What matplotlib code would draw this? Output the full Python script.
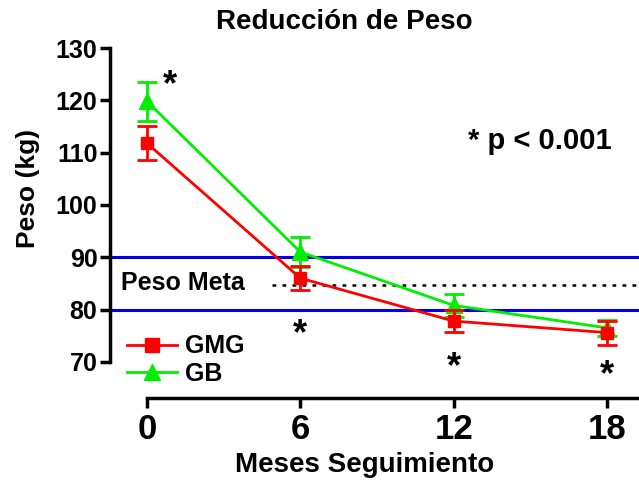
import matplotlib
matplotlib.use("Agg")
import matplotlib.pyplot as plt
from matplotlib.lines import Line2D

plt.rcParams["font.family"] = ["Liberation Sans", "DejaVu Sans"]
plt.rcParams["font.weight"] = "bold"

meses = [0, 6, 12, 18]
gmg = [111.8, 86.0, 77.8, 75.6]
gmg_err = [3.2, 2.3, 2.1, 2.3]
gb = [119.8, 91.0, 80.8, 76.5]
gb_err = [3.7, 2.8, 2.2, 1.5]
meta_sup, meta_inf, meta = 90, 80, 84.7
x_ticks = [0, 6, 12, 18]
y_ticks = [70, 80, 90, 100, 110, 120, 130]
asteriscos = [(0.9, 122.8), (6, 75.2), (12, 68.9), (18, 67.3)]

fig = plt.figure(figsize=(6.39, 4.8), dpi=100)
ax = fig.add_axes([110 / 639, 82 / 480, 529 / 639, 350 / 480])

ax.axhline(meta_sup, color="#0000ee", lw=2.2, zorder=1)
ax.axhline(meta_inf, color="#0000ee", lw=2.2, zorder=1)
ax.plot([4.9, 19.3], [meta, meta], color="black", lw=1.8, ls=(0, (1.5, 2.5)), zorder=1)
ax.text(-1.0, meta + 0.3, "Peso Meta", fontsize=18, va="center", ha="left")

ax.errorbar(meses, gb, yerr=gb_err, color="#00ee00", marker="^", markersize=12,
            lw=2, capsize=7, capthick=2, elinewidth=2, zorder=3)
ax.errorbar(meses, gmg, yerr=gmg_err, color="#ff0000", marker="s", markersize=9,
            lw=2, capsize=7, capthick=2, elinewidth=2, zorder=4)

for x, y in asteriscos:
    ax.text(x, y, "*", fontsize=26, ha="center", va="center")
ax.text(12.55, 112.2, "* p < 0.001", fontsize=21, ha="left", va="center")

ax.set_xlim(-1.45, 19.25)
ax.set_ylim(63.1, 130)
ax.spines["top"].set_visible(False)
ax.spines["right"].set_visible(False)
ax.spines["left"].set_bounds(70, 130)
ax.spines["bottom"].set_bounds(0, 19.25)
for s in ("left", "bottom"):
    ax.spines[s].set_linewidth(2.5)
ax.set_xticks(x_ticks)
ax.set_yticks(y_ticks)
ax.tick_params(width=2.5, length=7)
ax.tick_params(axis="x", labelsize=25, pad=4)
ax.tick_params(axis="y", labelsize=18, pad=2)

fig.text(344 / 639, 1 - 22 / 480, "Reducción de Peso", fontsize=20,
         fontweight="bold", ha="center", va="center")
fig.text(28 / 639, 1 - 188 / 480, "Peso (kg)", fontsize=19, fontweight="bold",
         rotation=90, ha="center", va="center")
fig.text(365 / 639, 1 - 465 / 480, "Meses Seguimiento", fontsize=20,
         fontweight="bold", ha="center", va="center")

handles = [
    Line2D([], [], color="#ff0000", lw=2, marker="s", markersize=10),
    Line2D([], [], color="#00ee00", lw=2, marker="^", markersize=12),
]
ax.legend(handles, ["GMG", "GB"], loc="lower left", bbox_to_anchor=(-0.01, -0.03),
          frameon=False, fontsize=18, handlelength=2.0, labelspacing=0.15,
          handletextpad=0.3)

fig.savefig("out.png", dpi=100)
